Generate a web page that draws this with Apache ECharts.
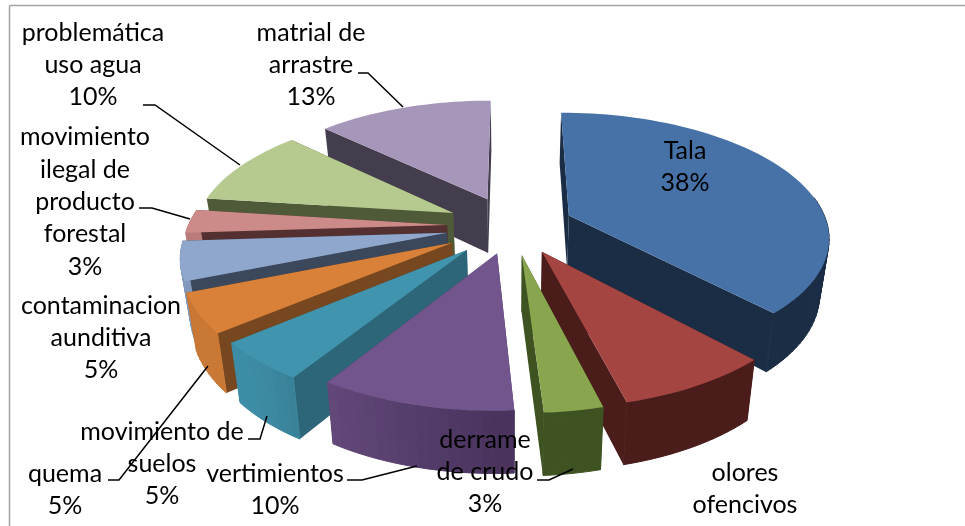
<!DOCTYPE html>
<html><head><meta charset="utf-8">
<style>html,body{margin:0;padding:0;background:#fff}#c{width:965px;height:526px}</style>
<script src="https://cdn.jsdelivr.net/npm/echarts@6/dist/echarts.min.js"></script>
</head><body><div id="c"></div>
<script>
const categories = ['Tala','olores ofencivos','derrame de crudo','vertimientos','movimiento de suelos','quema','contaminacion auditiva','movimiento ilegal de producto forestal','problemática uso agua','matrial de arrastre'];
const values = [38,8,3,10,5,5,5,3,10,13];
const explode = [62,60,60,58,66,68,66,65,66,64];
const topColors = ['#4672a8','#a54542','#89a54e','#71558c','#4094ae','#d98039','#8fa7cd','#cc8a88','#b6ca8f','#a697ba'];
const sideColors = ['#1b2d45','#4a1c1a','#3f5222','#4a345e','#2d6679','#774820','#3b475a','#553030','#4f5a38','#433d4d'];

const labelTexts = ['Tala\n38%','olores\nofencivos','derrame\nde crudo\n3%','vertimientos\n10%','movimiento de\nsuelos\n5%','quema\n5%','contaminacion\naunditiva\n5%','movimiento\nilegal de\nproducto\nforestal\n3%','problemática\nuso agua\n10%','matrial de\narrastre\n13%'];
const labelAnchors = [[685,167],[745,489],[485,472],[275,490],[162,464],[65,490],[101,338],[85,202],[93,65],[311,65]];
const leaders = [[[537,480],[549,480],[573,469]],[[347,480],[362,480],[417,466]],[[248,439],[260,439],[267,416]],[[108,480],[119,480],[208,366]],[[139,208],[152,208],[190,219]],[[143,105],[155,105],[240,165]],[[358,73],[368,73],[403,107]]];

const CX=512, CY=226, R=259, TILT=0.472, PERSP=0.16, DEPTH=55, SHRINK=0.03, ROT=0;
const total = values.reduce((a,b)=>a+b,0);
let acc=0;
const rows = values.map((v,i)=>{const s=acc;acc+=v;return [s/total*360+ROT,acc/total*360+ROT,explode[i]];});
const rad=d=>d*Math.PI/180;
function proj(gx,gy,z){const p=1/(1-PERSP*gy/R), q=p*(1-SHRINK*z/DEPTH);return [CX+gx*q,CY+gy*TILT*q+z*p];}
function mixShade(hexTop,hexSide,f){
  const a=parseInt(hexTop.slice(1),16),b=parseInt(hexSide.slice(1),16);
  const ch=s=>{const x=(a>>s)&255,y=(b>>s)&255;return Math.round(y+(x-y)*f);};
  return 'rgb('+ch(16)+','+ch(8)+','+ch(0)+')';
}
function wallLight(t){
  if(t<=180)return 0; if(t>=225)return 0.85; return (t-180)/45*0.85;
}
const depthOrder = rows.map((r,i)=>[i,-Math.cos(rad((r[0]+r[1])/2))]).sort((a,b)=>a[1]-b[1]).map(a=>a[0]);

function renderItem(params,api){
  const i=params.dataIndex, a0=api.value(0), a1=api.value(1), e=api.value(2);
  const mid=rad((a0+a1)/2), ox=e*Math.sin(mid), oy=-e*Math.cos(mid);
  const pt=(t,r,z)=>proj(ox+r*Math.sin(rad(t)),oy-r*Math.cos(rad(t)),z);
  const rank=depthOrder.indexOf(i)*10;
  const n=Math.max(4,Math.ceil((a1-a0)/2));
  const arc=[];for(let k=0;k<=n;k++)arc.push(a0+(a1-a0)*k/n);
  const top=[pt(a0,0,0)].concat(arc.map(t=>pt(t,R,0)));
  const side=sideColors[i];
  const wall=(t)=>[pt(0,0,0),pt(t,R,0),pt(t,R,DEPTH),pt(0,0,DEPTH)];
  const kids=[
    {type:'polygon',shape:{points:wall(a0)},style:{fill:side},z2:rank},
    {type:'polygon',shape:{points:wall(a1)},style:{fill:side},z2:rank+1}
  ];
  for(let k=0;k<n;k++){
    const tm=(arc[k]+arc[k+1])/2;
    if(tm<82||tm>278)continue;
    const c=mixShade(topColors[i],side,wallLight(tm));
    kids.push({type:'polygon',shape:{points:[pt(arc[k],R,0),pt(arc[k+1],R,0),pt(arc[k+1],R,DEPTH),pt(arc[k],R,DEPTH)]},style:{fill:c,stroke:c,lineWidth:1},z2:rank+2});
  }
  kids.push({type:'polygon',shape:{points:top},style:{fill:topColors[i]},z2:rank+3});
  return {type:'group',children:kids};
}

const graphicEls=[
  {type:'line',shape:{x1:9.5,y1:5.5,x2:965,y2:5.5},style:{stroke:'#a3a3a3',lineWidth:1.5},z:1},
  {type:'line',shape:{x1:9.5,y1:5.5,x2:9.5,y2:526},style:{stroke:'#a3a3a3',lineWidth:1.5},z:1}
];
leaders.forEach(pts=>graphicEls.push({type:'polyline',shape:{points:pts},style:{stroke:'#000',lineWidth:1.5,fill:null},z:50}));
labelTexts.forEach((t,i)=>graphicEls.push({type:'text',x:labelAnchors[i][0],y:labelAnchors[i][1],z:60,
  style:{text:t,font:'25px Lato',fill:'#000',align:'center',verticalAlign:'middle',lineHeight:32.4}}));

const chart=echarts.init(document.getElementById('c'),null,{renderer:'canvas'});
chart.setOption({
  animation:false,
  backgroundColor:'#fff',
  series:[{type:'custom',coordinateSystem:'none',renderItem,silent:true,clip:false,
    data:rows.map((r,i)=>({name:categories[i],value:r}))}],
  graphic:{elements:graphicEls}
});
</script></body></html>
